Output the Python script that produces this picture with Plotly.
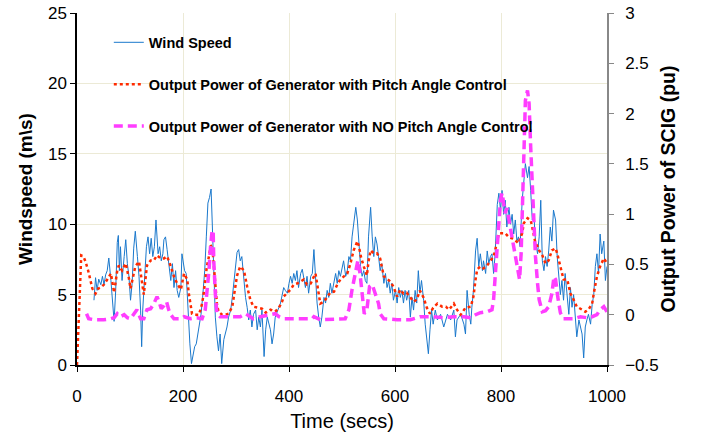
import plotly.graph_objects as go

# ---------------- data ----------------
wind_t = [32, 35, 38, 41, 45, 48, 51, 54, 57, 60, 64, 67, 70, 73, 76, 78, 80, 82, 85, 89,
          92, 95, 98, 101, 104, 107, 110, 114, 117, 120, 122, 124, 128, 131, 134, 137, 140, 143, 146, 149,
          153, 156, 159, 162, 164, 167, 170, 174, 177, 180, 183, 186, 189, 192, 196, 198, 200, 203, 206, 209,
          213, 216, 219, 222, 225, 228, 231, 234, 237, 241, 244, 247, 250, 253, 255, 258, 261, 264, 267, 270,
          273, 277, 280, 283, 286, 290, 293, 296, 299, 302, 305, 308, 311, 315, 318, 321, 324, 327, 330, 333,
          337, 340, 343, 346, 349, 353, 356, 359, 362, 365, 368, 371, 374, 378, 381, 384, 387, 390, 393, 397,
          400, 403, 406, 409, 412, 415, 418, 422, 425, 428, 431, 434, 437, 441, 444, 447, 450, 453, 456, 459,
          462, 466, 469, 472, 475, 478, 481, 485, 488, 491, 494, 497, 500, 503, 507, 510, 513, 516, 519, 522,
          526, 529, 532, 535, 538, 541, 544, 547, 550, 554, 557, 560, 563, 566, 569, 572, 575, 579, 582, 585,
          588, 591, 594, 597, 601, 604, 607, 610, 613, 616, 619, 622, 626, 629, 632, 635, 638, 641, 644, 647,
          650, 654, 657, 660, 663, 666, 669, 672, 676, 680, 686, 692, 699, 705, 711, 714, 717, 724, 730, 733,
          736, 740, 743, 745, 748, 752, 755, 758, 761, 765, 767, 771, 774, 777, 780, 783, 786, 789, 793, 796,
          799, 802, 805, 808, 811, 815, 818, 821, 824, 827, 830, 833, 836, 840, 843, 846, 850, 853, 856, 859,
          862, 865, 869, 872, 875, 878, 881, 884, 887, 890, 893, 896, 899, 903, 906, 909, 912, 915, 918, 921,
          925, 928, 931, 934, 937, 940, 943, 947, 950, 953, 956, 959, 962, 965, 969, 972, 975, 978, 981, 984,
          987, 990, 994, 997, 1000]
wind_speed = [4.6, 6.2, 5.3, 6.1, 5.7, 6.3, 5.7, 6.4, 6.7, 7.6, 6.0, 4.4, 3.1, 5.3, 8.7, 9.2, 6.7, 8.4, 6.0, 7.7,
              8.9, 7.2, 6.3, 4.6, 5.8, 8.3, 9.5, 7.7, 6.3, 3.9, 1.3, 3.9, 6.7, 8.4, 9.1, 7.9, 9.0, 7.7, 8.4, 10.3,
              7.9, 8.4, 7.4, 7.9, 8.9, 9.1, 8.2, 6.7, 6.0, 7.2, 5.5, 6.7, 5.3, 4.8, 5.5, 7.9, 7.4, 6.7, 6.5, 3.9,
              1.5, 0.1, 0.8, 1.3, 1.5, 2.2, 2.9, 3.6, 4.8, 6.7, 9.1, 11.5, 11.9, 12.5, 10.3, 6.7, 3.4, 2.0, 1.0, 2.2,
              0.1, 1.8, 2.2, 2.7, 3.4, 3.9, 4.8, 6.0, 7.2, 8.0, 8.2, 7.4, 7.7, 6.0, 4.8, 4.1, 3.2, 3.9, 2.7, 3.6,
              3.9, 2.5, 3.4, 2.7, 3.9, 0.6, 2.5, 3.4, 2.9, 2.5, 1.5, 2.2, 3.4, 3.9, 4.1, 4.4, 5.1, 5.5, 5.3, 5.1,
              5.8, 6.3, 5.8, 6.5, 6.0, 6.7, 5.5, 6.5, 6.8, 6.0, 5.5, 6.3, 5.1, 6.3, 6.5, 8.2, 5.8, 4.4, 3.4, 2.7,
              3.4, 4.8, 4.4, 5.3, 4.8, 5.8, 5.1, 6.0, 6.5, 5.8, 6.7, 6.3, 7.0, 7.4, 6.3, 6.7, 7.7, 7.4, 9.1, 10.0,
              11.2, 10.3, 8.4, 7.0, 6.3, 6.7, 6.0, 5.8, 9.1, 11.2, 9.1, 7.7, 9.1, 8.6, 7.7, 6.7, 7.2, 5.8, 6.5, 5.5,
              6.0, 5.1, 5.8, 4.6, 5.3, 4.4, 5.5, 4.8, 5.3, 4.4, 5.3, 4.6, 5.3, 3.4, 4.8, 3.9, 5.3, 4.4, 6.7, 5.1,
              6.0, 4.6, 2.9, 1.8, 0.8, 2.5, 3.9, 2.9, 3.9, 3.2, 3.6, 2.7, 3.6, 3.2, 3.9, 2.0, 3.2, 3.6, 2.9, 2.2,
              5.3, 3.6, 2.9, 4.1, 5.3, 8.1, 9.0, 7.0, 7.9, 6.7, 7.4, 6.5, 8.1, 7.2, 7.7, 7.9, 6.5, 7.9, 11.4, 12.2,
              11.0, 12.4, 10.7, 11.7, 9.8, 11.2, 10.0, 10.7, 9.3, 10.3, 8.8, 9.1, 8.4, 11.7, 13.2, 14.3, 13.3, 14.1, 12.4, 10.3,
              10.7, 8.8, 7.9, 9.1, 11.7, 7.4, 6.7, 7.7, 7.0, 8.1, 9.8, 8.8, 11.0, 10.3, 7.7, 6.0, 5.0, 6.0, 4.6, 6.5,
              4.8, 3.6, 5.5, 4.1, 5.0, 3.6, 2.0, 3.2, 2.7, 2.2, 0.5, 2.7, 3.2, 3.6, 2.9, 4.3, 5.0, 7.0, 7.9, 6.5,
              9.3, 7.9, 8.8, 6.0, 7.0]

pitch_t = [0, 2, 4, 6, 8, 12, 16, 21, 25, 29, 35, 40, 45, 51, 57, 64, 70, 73, 76, 79,
           85, 92, 95, 98, 101, 106, 110, 117, 120, 123, 126, 129, 132, 139, 145, 151, 158, 164, 170, 177,
           183, 189, 196, 202, 208, 211, 214, 217, 223, 230, 233, 236, 239, 242, 245, 249, 252, 255, 258, 261,
           264, 267, 274, 280, 286, 293, 296, 299, 302, 308, 315, 321, 327, 333, 340, 349, 356, 365, 374, 381,
           387, 390, 397, 403, 409, 415, 422, 428, 434, 441, 447, 450, 453, 456, 459, 466, 472, 478, 485, 491,
           497, 503, 510, 516, 522, 529, 532, 535, 538, 541, 547, 550, 554, 560, 566, 572, 575, 579, 585, 591,
           597, 604, 610, 616, 622, 629, 635, 641, 647, 654, 660, 666, 672, 680, 689, 696, 702, 711, 717, 724,
           733, 743, 748, 752, 755, 761, 767, 774, 780, 786, 789, 793, 796, 802, 808, 815, 821, 827, 833, 840,
           843, 850, 856, 859, 862, 865, 869, 872, 878, 884, 890, 896, 903, 906, 912, 915, 918, 925, 931, 937,
           943, 953, 959, 965, 972, 975, 978, 981, 987, 994, 1000]
pitch_power = [-0.5, -0.2, 0.2, 0.5, 0.59, 0.58, 0.53, 0.44, 0.35, 0.26, 0.21, 0.26, 0.27, 0.30, 0.35, 0.41, 0.22, 0.33, 0.44, 0.49,
               0.44, 0.51, 0.44, 0.36, 0.26, 0.38, 0.48, 0.53, 0.44, 0.31, 0.20, 0.35, 0.49, 0.54, 0.54, 0.59, 0.56, 0.56, 0.58, 0.48,
               0.38, 0.31, 0.25, 0.41, 0.35, 0.21, 0.08, 0.01, 0.0, 0.0, 0.05, 0.11, 0.21, 0.35, 0.48, 0.58, 0.68, 0.69, 0.51, 0.28,
               0.11, 0.03, 0.0, 0.0, 0.01, 0.08, 0.18, 0.29, 0.39, 0.48, 0.44, 0.28, 0.15, 0.08, 0.07, 0.06, 0.02, 0.05, 0.03, 0.07,
               0.13, 0.18, 0.22, 0.25, 0.30, 0.31, 0.33, 0.35, 0.30, 0.31, 0.38, 0.41, 0.31, 0.21, 0.11, 0.13, 0.18, 0.22, 0.23, 0.30,
               0.35, 0.38, 0.41, 0.51, 0.64, 0.73, 0.68, 0.59, 0.53, 0.48, 0.39, 0.53, 0.64, 0.61, 0.61, 0.56, 0.48, 0.38, 0.36, 0.33,
               0.28, 0.18, 0.25, 0.21, 0.22, 0.17, 0.13, 0.15, 0.24, 0.17, 0.07, 0.01, 0.07, 0.11, 0.08, 0.08, 0.05, 0.11, 0.05, 0.0,
               0.07, 0.08, 0.18, 0.35, 0.45, 0.48, 0.46, 0.49, 0.53, 0.58, 0.64, 0.76, 0.81, 0.81, 0.81, 0.77, 0.76, 0.74, 0.71, 0.81,
               0.91, 0.96, 0.94, 0.87, 0.77, 0.71, 0.68, 0.64, 0.59, 0.51, 0.54, 0.64, 0.66, 0.61, 0.48, 0.41, 0.35, 0.35, 0.21, 0.15,
               0.08, 0.05, 0.03, 0.05, 0.11, 0.21, 0.31, 0.38, 0.48, 0.56, 0.51]

nopitch_t = [18, 22, 32, 50, 64, 70, 76, 82, 89, 95, 101, 107, 113, 120, 126, 132, 139, 145, 151, 154,
             159, 164, 169, 173, 177, 183, 196, 202, 214, 226, 236, 242, 245, 249, 252, 255, 257, 258, 261, 264,
             270, 283, 296, 308, 318, 327, 333, 346, 362, 374, 381, 390, 430, 444, 447, 453, 459, 506, 513, 519,
             526, 530, 534, 538, 542, 547, 552, 557, 563, 569, 572, 579, 604, 629, 647, 672, 692, 711, 730, 743,
             752, 761, 774, 783, 786, 789, 793, 796, 799, 802, 805, 808, 811, 815, 818, 824, 830, 833, 835, 838,
             840, 843, 846, 850, 853, 856, 859, 862, 865, 869, 872, 878, 884, 890, 896, 900, 903, 907, 912, 918,
             937, 950, 962, 972, 981, 987, 994, 1000]
nopitch_power = [0.01, -0.04, -0.05, -0.05, -0.04, -0.03, 0.01, -0.02, 0.0, -0.03, -0.04, 0.01, 0.05, -0.04, -0.04, 0.05, 0.06, 0.11, 0.18, 0.14,
                 0.06, 0.09, 0.13, 0.05, 0.0, -0.04, -0.04, -0.02, -0.04, -0.03, -0.04, 0.05, 0.21, 0.44, 0.68, 0.84, 0.81, 0.54, 0.21, 0.01,
                 -0.02, -0.02, -0.02, -0.02, 0.01, -0.02, -0.04, -0.02, 0.0, 0.01, -0.02, -0.04, -0.04, -0.04, -0.02, -0.04, -0.05, -0.04, 0.05, 0.25,
                 0.44, 0.54, 0.41, 0.18, 0.01, 0.05, 0.28, 0.30, 0.21, 0.11, 0.01, -0.04, -0.05, -0.05, -0.02, -0.02, -0.03, -0.02, -0.02, -0.03,
                 0.0, 0.02, 0.03, 0.05, 0.15, 0.41, 0.71, 0.94, 1.14, 1.21, 1.11, 1.01, 1.06, 0.94, 0.84, 0.64, 0.45, 0.36, 0.35, 0.61,
                 1.07, 1.67, 2.13, 2.23, 2.1, 1.67, 1.24, 0.87, 0.58, 0.31, 0.15, 0.03, 0.04, 0.08, 0.21, 0.38, 0.35, 0.18, 0.02, -0.04,
                 -0.04, -0.02, -0.03, -0.02, 0.0, 0.05, 0.08, 0.03]

x_ticks = [0, 200, 400, 600, 800, 1000]
y_left_ticks = [0, 5, 10, 15, 20, 25]
y_right_ticks = [-0.5, 0, 0.5, 1, 1.5, 2, 2.5, 3]

# ---------------- figure ----------------
FONT = "Liberation Sans, Arial, sans-serif"
fig = go.Figure()

fig.add_trace(go.Scatter(
    x=wind_t, y=wind_speed, mode="lines", name="Wind Speed",
    line=dict(color="#1a78cc", width=1), legendgroup="a", yaxis="y"))
fig.add_trace(go.Scatter(
    x=pitch_t, y=pitch_power, mode="lines",
    name="Output Power of Generator with Pitch Angle Control",
    line=dict(color="#ff2a00", width=2.5, dash="dot"), legendgroup="b", yaxis="y2"))
fig.add_trace(go.Scatter(
    x=nopitch_t, y=nopitch_power, mode="lines",
    name="Output Power of Generator with NO Pitch Angle Control",
    line=dict(color="#ff3dff", width=3.5, dash="9px,5px"), legendgroup="c", yaxis="y2"))

grid = "#ecead6"
fig.update_layout(
    width=704, height=439,
    margin=dict(l=77, r=97, t=13, b=74),
    paper_bgcolor="white", plot_bgcolor="white",
    font=dict(family=FONT, color="black"),
    showlegend=True,
    legend=dict(x=0.06, y=0.962, xanchor="left", yanchor="top",
                bgcolor="rgba(0,0,0,0)", tracegroupgap=20,
                font=dict(size=14.5, family=FONT, weight="bold"),
                itemwidth=30),
    xaxis=dict(range=[0, 1000], tickvals=x_ticks, showgrid=True, gridcolor=grid,
               zeroline=False, showline=True, linecolor="black", linewidth=1.5,
               ticks="outside", ticklen=5, tickcolor="black", automargin=False,
               ticklabelstandoff=10,
               tickfont=dict(size=17),
               title=dict(text="Time (secs)", font=dict(size=20), standoff=9)),
    yaxis=dict(range=[0, 25], tickvals=y_left_ticks, showgrid=True, gridcolor=grid,
               zeroline=False, showline=True, linecolor="black", linewidth=1.5,
               ticks="outside", ticklen=5, tickcolor="black", automargin=False,
               tickfont=dict(size=17),
               title=dict(text="Windspeed (m&#92;s)", font=dict(size=19, weight="bold"), standoff=10)),
    yaxis2=dict(range=[-0.5, 3], tickvals=y_right_ticks, overlaying="y", side="right",
                showgrid=False, zeroline=False, showline=True, linecolor="#888888", linewidth=1.5,
                ticks="outside", ticklen=5, tickcolor="#888888", automargin=False,
                ticklabelstandoff=8,
                tickfont=dict(size=17),
                title=dict(text="Output Power of SCIG (pu)", font=dict(size=19.5, weight="bold"), standoff=4)),
)

fig.write_html("out.html", config={"displayModeBar": False})

# remove the browser's default 8px page margin so the figure fills the window exactly
with open("out.html", "r", encoding="utf-8") as f:
    html = f.read()
html = html.replace("<head>", "<head><style>html,body{margin:0;padding:0;overflow:hidden;}</style>", 1)
with open("out.html", "w", encoding="utf-8") as f:
    f.write(html)
